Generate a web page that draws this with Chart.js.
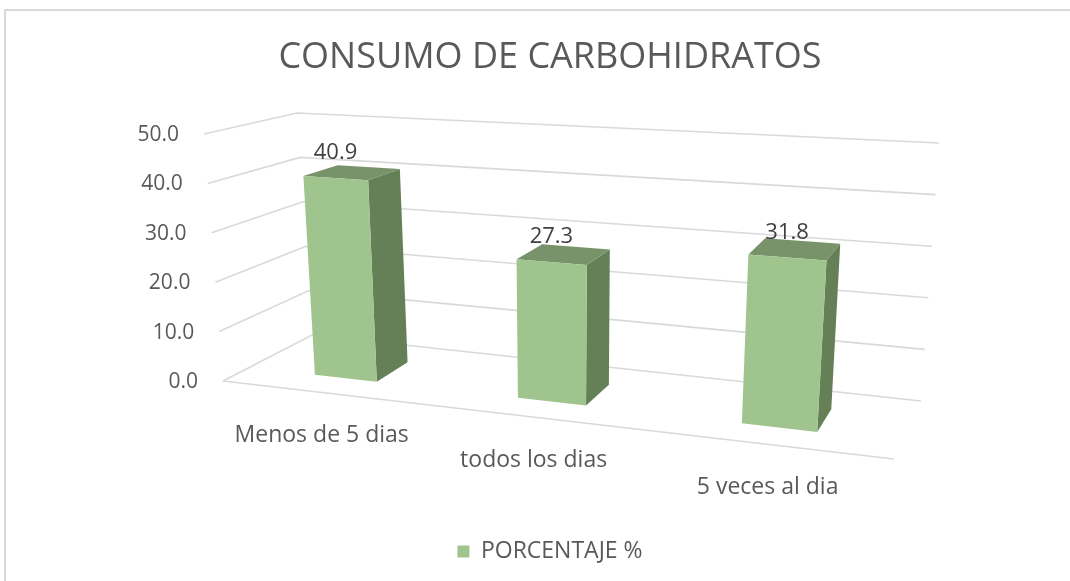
<!DOCTYPE html>
<html>
<head>
<meta charset="utf-8">
<script src="https://cdn.jsdelivr.net/npm/chart.js@4.4.1/dist/chart.umd.min.js"></script>
<style>
  html, body { margin: 0; padding: 0; background: #fff; }
  #wrap { position: relative; width: 1070px; height: 581px; overflow: hidden; }
  #frame { position: absolute; left: 4px; top: 9px; width: 1200px; height: 700px;
           border-top: 2px solid #d9d9d9; border-left: 2px solid #d9d9d9; }
  canvas { position: absolute; left: 0; top: 0; }
</style>
</head>
<body>
<div id="wrap">
  <div id="frame"></div>
  <canvas id="chart" width="1070" height="581"></canvas>
</div>
<script>
// ── Data ─────────────────────────────────────────────────────────────────────
const TITLE = "CONSUMO DE CARBOHIDRATOS";
const CATEGORIES = ["Menos de 5 dias", "todos los dias", "5 veces al dia"];
const SERIES_LABEL = "PORCENTAJE %";
const PERCENTAGES = [40.9, 27.3, 31.8];
const Y_MIN = 0;
const Y_MAX = 50;
const Y_STEP = 10;

// ── Style ────────────────────────────────────────────────────────────────────
const FONT = "'Open Sans', 'Noto Sans', sans-serif";
const TEXT = "#595959";
const LABEL_TEXT = "#404040";
const GRID = "#d9d9d9";
const FRONT = "#a0c48d";
const SIDE = "#657f57";
const TOP = "#78936a";

// ── 3D frame (screen corners of the plot box: front/back, left/right, bottom/top)
const F00 = [223, 381], F01 = [204, 134], F10 = [894, 459], F11 = [914, 178];
const B00 = [312, 335], B01 = [297, 113], B10 = [921, 401], B11 = [939, 143];
const PERSP = 0.862;            // horizontal foreshortening
const BAR_FRONT = 0.3, BAR_BACK = 0.7;

function lerp(a, b, t) {
  return [a[0] + (b[0] - a[0]) * t, a[1] + (b[1] - a[1]) * t];
}

// u: category axis 0..1, v: value axis 0..1, w: depth 0 (front) .. 1 (back)
function project(u, v, w) {
  const us = (PERSP * u) / (1 - u + PERSP * u);
  const f = lerp(lerp(F00, F01, v), lerp(F10, F11, v), us);
  const b = lerp(lerp(B00, B01, v), lerp(B10, B11, v), us);
  return lerp(f, b, w);
}

function poly(ctx, pts, color) {
  ctx.beginPath();
  ctx.moveTo(pts[0][0], pts[0][1]);
  pts.slice(1).forEach((p) => ctx.lineTo(p[0], p[1]));
  ctx.closePath();
  ctx.fillStyle = color;
  ctx.fill();
}

// ── Plugin: draw the bars in perspective from the chart's own scales ───────────
const scene3d = {
  id: "scene3d",
  beforeDatasetsDraw(chart) {
    const ctx = chart.ctx;
    const area = chart.chartArea;
    const xs = chart.scales.x;
    const ys = chart.scales.y;
    const normU = (px) => (px - area.left) / (area.right - area.left);
    const normV = (py) => (area.bottom - py) / (area.bottom - area.top);

    let ticks = ys.ticks && ys.ticks.length ? ys.ticks.map((t) => t.value) : [];
    if (!ticks.length) for (let t = Y_MIN; t <= Y_MAX; t += Y_STEP) ticks.push(t);

    ctx.save();
    // gridlines on side wall and back wall
    ctx.strokeStyle = GRID;
    ctx.lineWidth = 1.6;
    ticks.forEach((t) => {
      const v = normV(ys.getPixelForValue(t));
      const a = project(0, v, 0), b = project(0, v, 1), c = project(1, v, 1);
      ctx.beginPath();
      ctx.moveTo(a[0], a[1]);
      ctx.lineTo(b[0], b[1]);
      ctx.lineTo(c[0], c[1]);
      ctx.stroke();
    });
    // floor front edge
    const f0 = project(0, 0, 0), f1 = project(1, 0, 0);
    ctx.beginPath();
    ctx.moveTo(f0[0], f0[1]);
    ctx.lineTo(f1[0], f1[1]);
    ctx.stroke();

    // y tick labels
    ctx.fillStyle = TEXT;
    ctx.font = `21px ${FONT}`;
    ctx.textAlign = "right";
    ctx.textBaseline = "middle";
    ticks.forEach((t) => {
      const v = normV(ys.getPixelForValue(t));
      const p = project(0, v, 0);
      ctx.fillText(t.toFixed(1), p[0] - 25, p[1] + 1);
    });

    // bars
    const meta = chart.getDatasetMeta(0);
    meta.data.forEach((bar, i) => {
      const u1 = normU(bar.x - bar.width / 2);
      const u2 = normU(bar.x + bar.width / 2);
      const v = normV(bar.y);
      poly(ctx, [project(u2, 0, BAR_FRONT), project(u2, 0, BAR_BACK), project(u2, v, BAR_BACK), project(u2, v, BAR_FRONT)], SIDE);
      poly(ctx, [project(u1, v, BAR_FRONT), project(u2, v, BAR_FRONT), project(u2, v, BAR_BACK), project(u1, v, BAR_BACK)], TOP);
      poly(ctx, [project(u1, 0, BAR_FRONT), project(u2, 0, BAR_FRONT), project(u2, v, BAR_FRONT), project(u1, v, BAR_FRONT)], FRONT);

      // value label
      const top = project((u1 + u2) / 2, v, BAR_FRONT);
      ctx.fillStyle = LABEL_TEXT;
      ctx.font = `22px ${FONT}`;
      ctx.textAlign = "center";
      ctx.textBaseline = "middle";
      ctx.fillText(PERCENTAGES[i].toFixed(1), top[0], top[1] - 25);
    });

    // category labels under the floor front edge
    ctx.fillStyle = TEXT;
    ctx.font = `23px ${FONT}`;
    ctx.textAlign = "center";
    ctx.textBaseline = "middle";
    CATEGORIES.forEach((c, i) => {
      const p = project(normU(xs.getPixelForValue(i)), 0, 0);
      ctx.fillText(c, p[0], p[1] + 43);
    });
    ctx.restore();
    return false;
  },
};

// ── Chart ────────────────────────────────────────────────────────────────────
new Chart(document.getElementById("chart").getContext("2d"), {
  type: "bar",
  data: {
    labels: CATEGORIES,
    datasets: [{
      label: SERIES_LABEL,
      data: PERCENTAGES,
      backgroundColor: FRONT,
      borderWidth: 0,
      barPercentage: 0.315,
      categoryPercentage: 1,
    }],
  },
  options: {
    responsive: false,
    animation: false,
    layout: { padding: { left: 30, bottom: 8 } },
    scales: {
      x: { display: false },
      y: { display: false, min: Y_MIN, max: Y_MAX, ticks: { stepSize: Y_STEP } },
    },
    plugins: {
      title: {
        display: true,
        text: TITLE,
        color: TEXT,
        font: { family: FONT, size: 36, weight: "normal" },
        padding: { top: 36, bottom: 0 },
      },
      legend: {
        position: "bottom",
        labels: { boxWidth: 12, boxHeight: 12, color: TEXT, font: { family: FONT, size: 23 } },
      },
      tooltip: { enabled: false },
    },
  },
  plugins: [scene3d],
});
</script>
</body>
</html>
